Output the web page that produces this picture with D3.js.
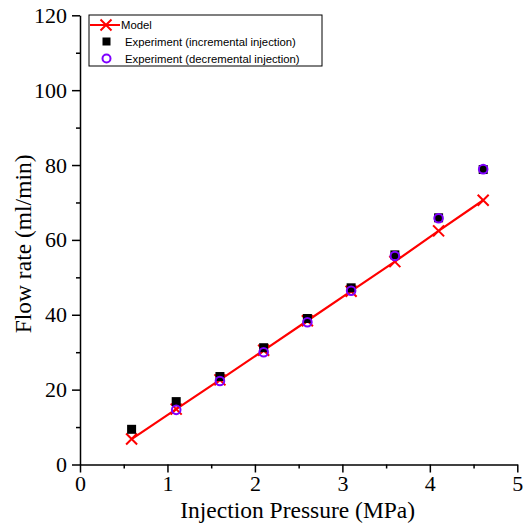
<!DOCTYPE html>
<html>
<head>
<meta charset="utf-8">
<script src="https://cdn.jsdelivr.net/npm/d3@7"></script>
<style>
  body { margin: 0; background: #fff; }
  .axis path, .axis line { stroke: #000; stroke-width: 1.5; }
  .axis text { font-family: "Liberation Serif", "Times New Roman", serif; font-size: 22px; fill: #000; }
</style>
</head>
<body>
<div id="chart"></div>
<script>
// values
const pressure = [0.59, 1.1, 1.6, 2.1, 2.6, 3.1, 3.6, 4.1, 4.61];
const modelFlow = [6.8, 14.8, 22.6, 30.5, 38.4, 46.3, 54.2, 62.4, 70.6];
const incFlow = [9.4, 16.8, 23.5, 31.2, 39.0, 47.2, 56.0, 65.9, 78.8];
const decPressure = [1.1, 1.6, 2.1, 2.6, 3.1, 3.6, 4.1, 4.61];
const decFlow = [14.6, 22.3, 30.0, 38.0, 46.4, 55.7, 65.8, 78.9];
const xTicks = [0, 1, 2, 3, 4, 5];
const yTicks = [0, 20, 40, 60, 80, 100, 120];
const xMinor = [0.5, 1.5, 2.5, 3.5, 4.5];
const yMinor = [10, 30, 50, 70, 90, 110];

const width = 529, height = 526;
const margin = { top: 15.3, right: 11.7, bottom: 61.5, left: 80 };

const svg = d3.select("#chart").append("svg")
  .attr("width", width)
  .attr("height", height);

const x = d3.scaleLinear().domain([0, 5]).range([margin.left, width - margin.right]);
const y = d3.scaleLinear().domain([0, 120]).range([height - margin.bottom, margin.top]);

// minor ticks
svg.append("g")
  .attr("class", "axis")
  .attr("transform", `translate(0,${y(0)})`)
  .call(d3.axisBottom(x).tickValues(xMinor).tickSize(4).tickFormat(""))
  .call(g => g.select(".domain").remove());
svg.append("g")
  .attr("class", "axis")
  .attr("transform", `translate(${x(0)},0)`)
  .call(d3.axisLeft(y).tickValues(yMinor).tickSize(4).tickFormat(""))
  .call(g => g.select(".domain").remove());

// major axes
svg.append("g")
  .attr("class", "axis")
  .attr("transform", `translate(0,${y(0)})`)
  .call(d3.axisBottom(x).tickValues(xTicks).tickFormat(d3.format("d")).tickSize(8).tickSizeOuter(0).tickPadding(3));
svg.append("g")
  .attr("class", "axis")
  .attr("transform", `translate(${x(0)},0)`)
  .call(d3.axisLeft(y).tickValues(yTicks).tickFormat(d3.format("d")).tickSize(8).tickSizeOuter(0).tickPadding(5));

// axis titles
svg.append("text")
  .attr("x", (x(0) + x(5)) / 2 - 1)
  .attr("y", 518)
  .attr("text-anchor", "middle")
  .style("font-family", "Liberation Serif, Times New Roman, serif")
  .style("font-size", "23.5px")
  .text("Injection Pressure (MPa)");

svg.append("text")
  .attr("transform", `translate(31,${(y(0) + y(120)) / 2 + 4}) rotate(-90)`)
  .attr("text-anchor", "middle")
  .style("font-family", "Liberation Serif, Times New Roman, serif")
  .style("font-size", "23.5px")
  .text("Flow rate (ml/min)");

const red = "#ff0000", purple = "#7f00ff";
const crossPath = s => `M${-s},${-s}L${s},${s}M${-s},${s}L${s},${-s}`;

// model line and crosses
const modelPts = pressure.map((p, i) => [p, modelFlow[i]]);
svg.append("path")
  .datum(modelPts)
  .attr("fill", "none")
  .attr("stroke", red)
  .attr("stroke-width", 2.2)
  .attr("d", d3.line().x(d => x(d[0])).y(d => y(d[1])));

svg.selectAll(".cross")
  .data(modelPts)
  .enter().append("path")
  .attr("class", "cross")
  .attr("transform", d => `translate(${x(d[0])},${y(d[1])})`)
  .attr("d", crossPath(5.5))
  .attr("stroke", red)
  .attr("stroke-width", 2)
  .attr("fill", "none");

// incremental: filled squares
svg.selectAll(".sq")
  .data(pressure.map((p, i) => [p, incFlow[i]]))
  .enter().append("rect")
  .attr("class", "sq")
  .attr("x", d => x(d[0]) - 4.5)
  .attr("y", d => y(d[1]) - 4.5)
  .attr("width", 9)
  .attr("height", 9)
  .attr("fill", "#000");

// decremental: hollow circles
svg.selectAll(".circ")
  .data(decPressure.map((p, i) => [p, decFlow[i]]))
  .enter().append("circle")
  .attr("class", "circ")
  .attr("cx", d => x(d[0]))
  .attr("cy", d => y(d[1]))
  .attr("r", 4.3)
  .attr("fill", "none")
  .attr("stroke", purple)
  .attr("stroke-width", 2);

// legend
const lg = svg.append("g").attr("transform", "translate(89,15)");
lg.append("rect")
  .attr("width", 233).attr("height", 51)
  .attr("fill", "#fff").attr("stroke", "#000").attr("stroke-width", 1);

const legendFont = g => g.style("font-family", "Liberation Sans, Arial, sans-serif").style("font-size", "11.3px");

lg.append("line").attr("x1", 1).attr("x2", 31).attr("y1", 10).attr("y2", 10)
  .attr("stroke", red).attr("stroke-width", 2);
lg.append("path").attr("transform", "translate(17,10)").attr("d", crossPath(5.5))
  .attr("stroke", red).attr("stroke-width", 2).attr("fill", "none");
lg.append("text").attr("x", 32).attr("y", 14).text("Model").call(legendFont);

lg.append("rect").attr("x", 13.5).attr("y", 22.5).attr("width", 8).attr("height", 8).attr("fill", "#000");
lg.append("text").attr("x", 36).attr("y", 30.5).text("Experiment (incremental injection)").call(legendFont);

lg.append("circle").attr("cx", 17.5).attr("cy", 43.5).attr("r", 4)
  .attr("fill", "none").attr("stroke", purple).attr("stroke-width", 2);
lg.append("text").attr("x", 36).attr("y", 47.5).text("Experiment (decremental injection)").call(legendFont);
</script>
</body>
</html>
